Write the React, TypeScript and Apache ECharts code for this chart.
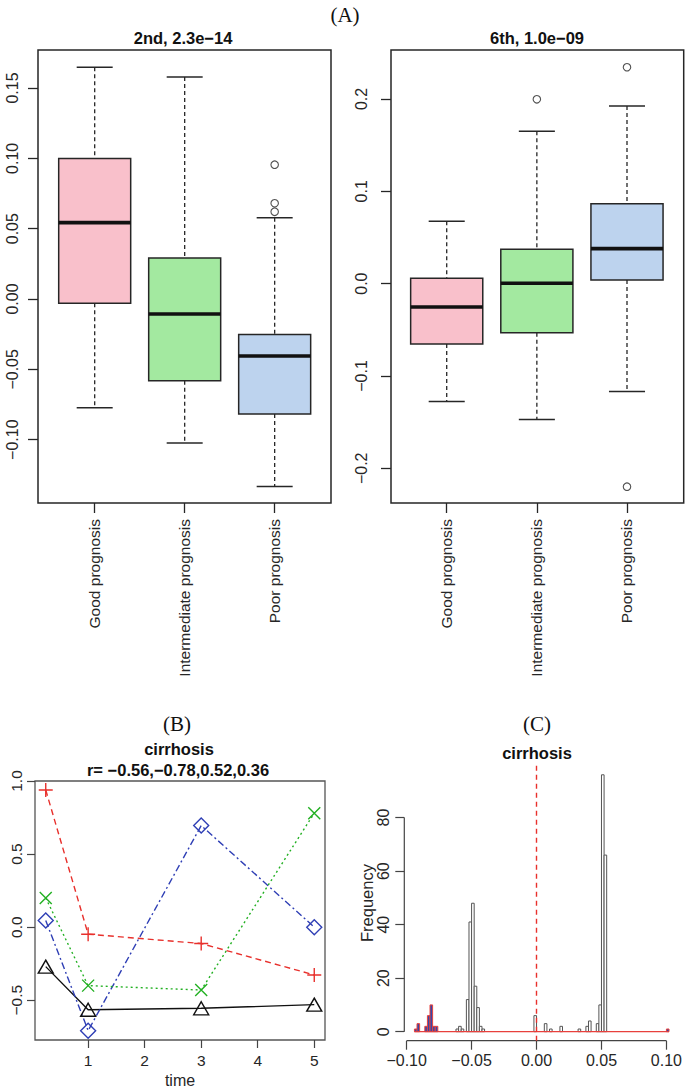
import React, { useEffect, useRef } from "react";
import * as echarts from "echarts";

// ---------- (A) boxplots ----------
const groups = ["Good prognosis", "Intermediate prognosis", "Poor prognosis"];
const boxColors = ["#F9C0CB", "#A3E9A0", "#BDD3EE"];
// [lower whisker, Q1, median, Q3, upper whisker]
const box2nd = [
  [-0.0773, -0.003, 0.0543, 0.0998, 0.1647],
  [-0.1024, -0.0581, -0.0107, 0.0292, 0.1578],
  [-0.1333, -0.0818, -0.0405, -0.0252, 0.0578],
];
const out2nd = [
  [3, 0.0955],
  [3, 0.068],
  [3, 0.062],
];
const box6th = [
  [-0.1278, -0.0653, -0.0253, 0.0058, 0.0675],
  [-0.1472, -0.0531, 0.0004, 0.0373, 0.165],
  [-0.1168, 0.004, 0.0379, 0.0866, 0.1924],
];
const out6th = [
  [2, 0.1996],
  [3, 0.2343],
  [3, -0.2199],
];
const ticks2nd = [-0.1, -0.05, 0, 0.05, 0.1, 0.15];
const ticks6th = [-0.2, -0.1, 0, 0.1, 0.2];
const groupPos = [1, 2, 3];

// ---------- (B) time course ----------
const times = [0.25, 1, 3, 5];
const redPlus = [0.938, -0.048, -0.112, -0.327];
const greenCross = [0.2, -0.4, -0.43, 0.78];
const blueDiamond = [0.045, -0.708, 0.695, 0.0];
const blackTriangle = [-0.27, -0.565, -0.555, -0.53];
const timeTicks = [1, 2, 3, 4, 5];
const bTicks = [-0.5, 0, 0.5, 1.0];

// ---------- (C) histogram ----------
const binWidth = 0.002;
const grayBinStarts = [
  -0.062, -0.06, -0.058, -0.054, -0.052, -0.05, -0.048, -0.046, -0.044, -0.042,
  -0.002, 0.006, 0.01, 0.018, 0.032, 0.038, 0.04, 0.046, 0.048, 0.05, 0.052,
];
const grayCounts = [1, 2, 1, 12, 41, 48, 17, 9, 2, 1, 6, 3, 1, 2, 1, 2, 4, 3, 10, 96, 66];
const blueBinStarts = [-0.094, -0.092, -0.086, -0.084, -0.082, -0.08, -0.078, 0.1];
const blueCounts = [1, 3, 2, 6, 10, 2, 2, 1];
const blueRange = [-0.094, 0.102];
const histXTicks = [-0.1, -0.05, 0, 0.05, 0.1];
const histYTicks = [0, 20, 40, 60, 80];

const FONT = "'Liberation Sans', Arial, Helvetica, sans-serif";
const SERIF = "'Liberation Serif', 'Times New Roman', serif";
const INK = "#262626";

const minus = (s: string) => s.replace("-", "\u2212");
const fmt = (d: number) => (v: number) => minus((Math.abs(v) < 1e-12 ? 0 : v).toFixed(d));

function boxRenderer(colors: string[]) {
  return (params: any, api: any) => {
    const x = api.value(0);
    const lo = api.value(1);
    const q1 = api.value(2);
    const med = api.value(3);
    const q3 = api.value(4);
    const hi = api.value(5);
    const ci = api.value(6);
    const tl = api.coord([x - 0.4, q3]);
    const br = api.coord([x + 0.4, q1]);
    const mL = api.coord([x - 0.4, med]);
    const mR = api.coord([x + 0.4, med]);
    const pHi = api.coord([x, hi]);
    const pQ3 = api.coord([x, q3]);
    const pQ1 = api.coord([x, q1]);
    const pLo = api.coord([x, lo]);
    const cHL = api.coord([x - 0.2, hi]);
    const cHR = api.coord([x + 0.2, hi]);
    const cLL = api.coord([x - 0.2, lo]);
    const cLR = api.coord([x + 0.2, lo]);
    const dash = { stroke: INK, lineWidth: 1.3, lineDash: [4, 3] };
    const solid = { stroke: INK, lineWidth: 1.5 };
    return {
      type: "group",
      children: [
        { type: "line", shape: { x1: pHi[0], y1: pHi[1], x2: pQ3[0], y2: pQ3[1] }, style: dash },
        { type: "line", shape: { x1: pQ1[0], y1: pQ1[1], x2: pLo[0], y2: pLo[1] }, style: dash },
        { type: "line", shape: { x1: cHL[0], y1: cHL[1], x2: cHR[0], y2: cHR[1] }, style: solid },
        { type: "line", shape: { x1: cLL[0], y1: cLL[1], x2: cLR[0], y2: cLR[1] }, style: solid },
        {
          type: "rect",
          shape: { x: tl[0], y: tl[1], width: br[0] - tl[0], height: br[1] - tl[1] },
          style: { fill: colors[ci], stroke: INK, lineWidth: 1.5 },
        },
        { type: "line", shape: { x1: mL[0], y1: mL[1], x2: mR[0], y2: mR[1] }, style: { stroke: "#111", lineWidth: 3.6 } },
      ],
    };
  };
}

function histRenderer(fill: string, stroke: string, lw: number) {
  return (params: any, api: any) => {
    const s = api.value(0);
    const c = api.value(1);
    const a = api.coord([s, c]);
    const b = api.coord([s + binWidth, 0]);
    return {
      type: "rect",
      shape: { x: a[0], y: a[1], width: b[0] - a[0], height: b[1] - a[1] },
      style: { fill, stroke, lineWidth: lw },
    };
  };
}

const tickLabel = (size: number, margin: number, extra: any = {}) => ({
  fontFamily: FONT,
  fontSize: size,
  color: INK,
  margin,
  ...extra,
});

export default function App() {
  const ref = useRef<HTMLDivElement>(null);
  useEffect(() => {
    if (!ref.current) return;
    const chart = echarts.init(ref.current, undefined, { renderer: "svg" });

    const plusPath = "path://M5,0L5,10M0,5L10,5";
    const crossPath = "path://M0,0L10,10M0,10L10,0";

    const boxXAxis = (gi: number, min: number, max: number) => ({
      gridIndex: gi,
      type: "value",
      min,
      max,
      splitLine: { show: false },
      axisLine: { show: false, onZero: false },
      axisTick: { show: true, customValues: groupPos, length: 10, lineStyle: { color: INK, width: 1.3 } },
      axisLabel: {
        ...tickLabel(15.5, 16),
        customValues: groupPos,
        rotate: 90,
        formatter: (v: number) => groups[Math.round(v) - 1],
      },
    });
    const boxYAxis = (gi: number, min: number, max: number, ticks: number[], d: number, margin: number) => ({
      gridIndex: gi,
      type: "value",
      min,
      max,
      splitLine: { show: false },
      axisLine: { show: false, onZero: false },
      axisTick: { show: true, customValues: ticks, length: 10, lineStyle: { color: INK, width: 1.3 } },
      axisLabel: { ...tickLabel(16, margin), customValues: ticks, rotate: 90, formatter: fmt(d) },
    });

    const histBlueFull = blueBinStarts.map((s, i) => [s, blueCounts[i]]);

    const option: any = {
      animation: false,
      backgroundColor: "#ffffff",
      grid: [
        { left: 38, top: 50, width: 293, height: 453, show: true, borderColor: INK, borderWidth: 1.5, backgroundColor: "transparent" },
        { left: 391, top: 50, width: 292.7, height: 453, show: true, borderColor: INK, borderWidth: 1.5, backgroundColor: "transparent" },
        { left: 35, top: 781, width: 290, height: 259, show: true, borderColor: "#555", borderWidth: 1.3, backgroundColor: "transparent" },
        { left: 404.3, top: 763.3, width: 267.1, height: 277.4, show: false },
      ],
      xAxis: [
        boxXAxis(0, 0.37, 3.626),
        boxXAxis(1, 0.382, 3.629),
        {
          gridIndex: 2,
          type: "value",
          min: 0.06,
          max: 5.19,
          splitLine: { show: false },
          axisLine: { show: false, onZero: false },
          axisTick: { show: true, customValues: timeTicks, length: 8, lineStyle: { color: "#444", width: 1.2 } },
          axisLabel: { ...tickLabel(15.5, 12), customValues: timeTicks, formatter: (v: number) => String(v) },
        },
        {
          gridIndex: 3,
          type: "value",
          min: -0.1018,
          max: 0.1018,
          splitLine: { show: false },
          axisLine: { show: false, onZero: false },
          axisTick: { show: true, customValues: histXTicks, length: 9, lineStyle: { color: "#444", width: 1.2 } },
          axisLabel: { ...tickLabel(16, 12), customValues: histXTicks, formatter: fmt(2) },
        },
      ],
      yAxis: [
        boxYAxis(0, -0.145, 0.177, ticks2nd, 2, 18),
        boxYAxis(1, -0.2376, 0.253, ticks6th, 1, 22),
        {
          gridIndex: 2,
          type: "value",
          min: -0.772,
          max: 1.0,
          splitLine: { show: false },
          axisLine: { show: false, onZero: false },
          axisTick: { show: true, customValues: bTicks, length: 8, lineStyle: { color: "#444", width: 1.2 } },
          axisLabel: { ...tickLabel(15.5, 11), customValues: bTicks, rotate: 90, formatter: fmt(1) },
        },
        {
          gridIndex: 3,
          type: "value",
          min: -3.37,
          max: 100.3,
          splitLine: { show: false },
          axisLine: { show: false, onZero: false },
          axisTick: { show: true, customValues: histYTicks, length: 9, lineStyle: { color: "#444", width: 1.2 } },
          axisLabel: { ...tickLabel(16, 13), customValues: histYTicks, rotate: 90, formatter: (v: number) => String(v) },
        },
      ],
      series: [
        {
          type: "custom",
          xAxisIndex: 0,
          yAxisIndex: 0,
          renderItem: boxRenderer(boxColors),
          data: box2nd.map((b, i) => [groupPos[i], ...b, i]),
          z: 2,
        },
        {
          type: "scatter",
          xAxisIndex: 0,
          yAxisIndex: 0,
          symbol: "circle",
          symbolSize: 7.5,
          itemStyle: { color: "transparent", borderColor: INK, borderWidth: 1.1 },
          data: out2nd,
          z: 3,
        },
        {
          type: "custom",
          xAxisIndex: 1,
          yAxisIndex: 1,
          renderItem: boxRenderer(boxColors),
          data: box6th.map((b, i) => [groupPos[i], ...b, i]),
          z: 2,
        },
        {
          type: "scatter",
          xAxisIndex: 1,
          yAxisIndex: 1,
          symbol: "circle",
          symbolSize: 7.5,
          itemStyle: { color: "transparent", borderColor: INK, borderWidth: 1.1 },
          data: out6th,
          z: 3,
        },
        // (B)
        {
          type: "line",
          xAxisIndex: 2,
          yAxisIndex: 2,
          data: times.map((t, i) => [t, blackTriangle[i]]),
          symbol: "triangle",
          symbolSize: [15, 13],
          itemStyle: { color: "transparent", borderColor: "#111", borderWidth: 1.4 },
          lineStyle: { color: "#111", width: 1.4, type: "solid" },
        },
        {
          type: "line",
          xAxisIndex: 2,
          yAxisIndex: 2,
          data: times.map((t, i) => [t, blueDiamond[i]]),
          symbol: "diamond",
          symbolSize: 15,
          itemStyle: { color: "transparent", borderColor: "#2F3FB5", borderWidth: 1.4 },
          lineStyle: { color: "#2F3FB5", width: 1.4, type: [7, 3, 2, 3] },
        },
        {
          type: "line",
          xAxisIndex: 2,
          yAxisIndex: 2,
          data: times.map((t, i) => [t, greenCross[i]]),
          symbol: crossPath,
          symbolSize: 12,
          itemStyle: { color: "transparent", borderColor: "#22B022", borderWidth: 1.4 },
          lineStyle: { color: "#22B022", width: 1.4, type: [2, 3] },
        },
        {
          type: "line",
          xAxisIndex: 2,
          yAxisIndex: 2,
          data: times.map((t, i) => [t, redPlus[i]]),
          symbol: plusPath,
          symbolSize: 14,
          itemStyle: { color: "transparent", borderColor: "#E8302C", borderWidth: 1.4 },
          lineStyle: { color: "#E8302C", width: 1.4, type: [6, 4] },
        },
        // (C)
        {
          type: "custom",
          xAxisIndex: 3,
          yAxisIndex: 3,
          renderItem: histRenderer("#ffffff", "#555555", 1),
          data: grayBinStarts.map((s, i) => [s, grayCounts[i]]),
          clip: false,
          z: 2,
          markLine: {
            silent: true,
            symbol: "none",
            label: { show: false },
            lineStyle: { color: "#E8302C", type: [5, 4], width: 1.4 },
            data: [{ xAxis: 0 }],
          },
        },
        {
          type: "custom",
          xAxisIndex: 3,
          yAxisIndex: 3,
          renderItem: (params: any, api: any) => {
            const a = api.coord([blueRange[0], 0]);
            const b = api.coord([blueRange[1], 0]);
            return {
              type: "line",
              shape: { x1: a[0], y1: a[1], x2: b[0], y2: b[1] },
              style: { stroke: "#E8403C", lineWidth: 1.3 },
            };
          },
          data: [[blueRange[0], 0]],
          clip: false,
          z: 3,
        },
        {
          type: "custom",
          xAxisIndex: 3,
          yAxisIndex: 3,
          renderItem: histRenderer("#3548A8", "#E8403C", 1),
          data: histBlueFull,
          clip: false,
          z: 4,
        },
        {
          type: "custom",
          xAxisIndex: 3,
          yAxisIndex: 3,
          renderItem: (params: any, api: any) => {
            const x0 = -0.1018;
            const yb = -3.37;
            const ya = api.coord([x0, histYTicks[0]]);
            const yz = api.coord([x0, histYTicks[histYTicks.length - 1]]);
            const xa = api.coord([histXTicks[0], yb]);
            const xz = api.coord([histXTicks[histXTicks.length - 1], yb]);
            return {
              type: "group",
              children: [
                { type: "line", shape: { x1: ya[0], y1: ya[1], x2: yz[0], y2: yz[1] }, style: { stroke: "#444", lineWidth: 1.2 } },
                { type: "line", shape: { x1: xa[0], y1: xa[1], x2: xz[0], y2: xz[1] }, style: { stroke: "#444", lineWidth: 1.2 } },
              ],
            };
          },
          data: [[0, 0]],
          clip: false,
          z: 1,
        },
      ],
      graphic: [
        { type: "text", x: 345, y: 15, style: { text: "(A)", font: `21px ${SERIF}`, fill: "#111", align: "center", verticalAlign: "middle" } },
        { type: "text", x: 183, y: 38, style: { text: "2nd, 2.3e\u221214", font: `bold 16.5px ${FONT}`, fill: "#111", align: "center", verticalAlign: "middle" } },
        { type: "text", x: 537, y: 38, style: { text: "6th, 1.0e\u221209", font: `bold 16.5px ${FONT}`, fill: "#111", align: "center", verticalAlign: "middle" } },
        { type: "text", x: 177, y: 724, style: { text: "(B)", font: `21px ${SERIF}`, fill: "#111", align: "center", verticalAlign: "middle" } },
        { type: "text", x: 179, y: 749, style: { text: "cirrhosis", font: `bold 16.5px ${FONT}`, fill: "#111", align: "center", verticalAlign: "middle" } },
        { type: "text", x: 178, y: 770, style: { text: "r= \u22120.56,\u22120.78,0.52,0.36", font: `bold 16.5px ${FONT}`, fill: "#111", align: "center", verticalAlign: "middle" } },
        { type: "text", x: 180, y: 1080, style: { text: "time", font: `16px ${FONT}`, fill: INK, align: "center", verticalAlign: "middle" } },
        { type: "text", x: 537, y: 724, style: { text: "(C)", font: `21px ${SERIF}`, fill: "#111", align: "center", verticalAlign: "middle" } },
        { type: "text", x: 537, y: 753, style: { text: "cirrhosis", font: `bold 16.5px ${FONT}`, fill: "#111", align: "center", verticalAlign: "middle" } },
        { type: "text", x: 367, y: 903, rotation: Math.PI / 2, style: { text: "Frequency", font: `16.5px ${FONT}`, fill: INK, align: "center", verticalAlign: "middle" } },
      ],
    };
    chart.setOption(option);
    return () => chart.dispose();
  }, []);
  return (
    <div
      ref={ref}
      style={{ position: "absolute", left: 0, top: 0, width: 685, height: 1091, background: "#fff" }}
    />
  );
}
